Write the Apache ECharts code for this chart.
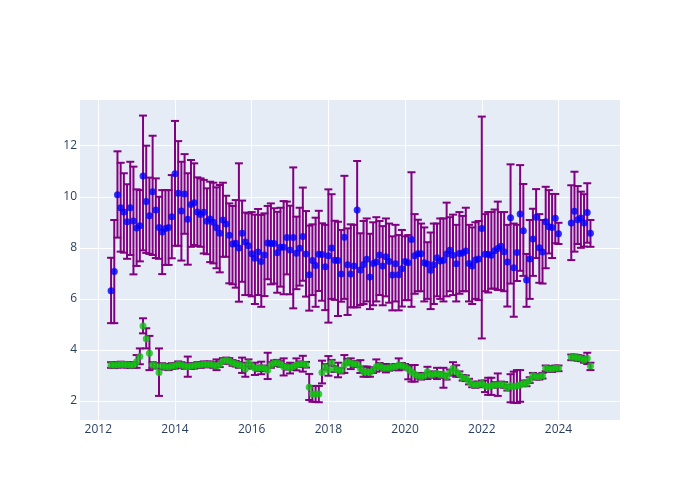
<!DOCTYPE html>
<html>
<head>
<meta charset="utf-8">
<script src="https://cdn.jsdelivr.net/npm/echarts@6/dist/echarts.min.js"></script>
<style>html,body{margin:0;padding:0;background:#fff}#c{width:700px;height:500px}</style>
</head>
<body>
<div id="c"></div>
<script>
// Monthly observation dates (YYYY-MM)
const dates = [
 '2012-05','2012-06','2012-07','2012-08','2012-09','2012-10','2012-11','2012-12',
 '2013-01','2013-02','2013-03','2013-04','2013-05','2013-06','2013-07','2013-08','2013-09','2013-10','2013-11','2013-12',
 '2014-01','2014-02','2014-03','2014-04','2014-05','2014-06','2014-07','2014-08','2014-09','2014-10','2014-11','2014-12',
 '2015-01','2015-02','2015-03','2015-04','2015-05','2015-06','2015-07','2015-08','2015-09','2015-10','2015-11','2015-12',
 '2016-01','2016-02','2016-03','2016-04','2016-05','2016-06','2016-07','2016-08','2016-09','2016-10','2016-11','2016-12',
 '2017-01','2017-02','2017-03','2017-04','2017-05','2017-06','2017-07','2017-08','2017-09','2017-10','2017-11','2017-12',
 '2018-01','2018-02','2018-03','2018-04','2018-05','2018-06','2018-07','2018-08','2018-09','2018-10','2018-11','2018-12',
 '2019-01','2019-02','2019-03','2019-04','2019-05','2019-06','2019-07','2019-08','2019-09','2019-10','2019-11','2019-12',
 '2020-01','2020-02','2020-03','2020-04','2020-05','2020-06','2020-07','2020-08','2020-09','2020-10','2020-11','2020-12',
 '2021-01','2021-02','2021-03','2021-04','2021-05','2021-06','2021-07','2021-08','2021-09','2021-10','2021-11','2021-12',
 '2022-01','2022-02','2022-03','2022-04','2022-05','2022-06','2022-07','2022-08','2022-09','2022-10','2022-11','2022-12',
 '2023-01','2023-02','2023-03','2023-04','2023-05','2023-06','2023-07','2023-08','2023-09','2023-10','2023-11','2023-12',
 '2024-01',
 '2024-05','2024-06','2024-07','2024-08','2024-09','2024-10','2024-11'
];

// Upper series (blue points)
const blueVal = [
 6.32,7.07,10.08,9.57,9.40,9.02,9.57,9.05,
 8.78,8.86,10.81,9.81,9.26,10.20,9.48,8.80,8.62,8.76,8.80,9.22,
 10.90,10.14,9.44,10.11,9.12,9.70,9.77,9.40,9.31,9.39,9.04,9.13,
 9.00,8.79,8.57,9.09,8.93,8.49,8.15,8.18,7.99,8.57,8.23,8.08,
 7.77,7.59,7.84,7.46,7.72,8.19,8.17,8.17,7.81,8.02,8.02,8.40,
 7.91,8.40,7.79,7.98,8.44,7.76,6.95,7.50,7.31,7.75,7.74,7.26,
 7.69,7.99,7.51,7.50,6.97,8.41,7.34,6.97,7.29,9.48,7.13,7.35,
 7.55,6.86,7.39,7.44,7.72,7.29,7.65,7.46,6.94,7.38,6.95,7.18,
 7.46,7.42,8.33,7.69,7.77,7.77,7.42,7.37,7.12,7.34,7.61,7.48,
 7.51,7.76,7.90,7.71,7.38,7.78,7.80,7.88,7.39,7.29,7.52,7.56,
 8.76,7.75,7.75,7.71,7.89,7.97,8.06,7.85,7.44,9.18,7.22,7.82,
 9.32,8.67,6.74,7.56,8.35,9.20,8.00,7.84,9.02,8.83,8.80,9.16,
 8.55,
 8.97,9.43,9.10,9.17,8.97,9.38,8.57
];
const blueHi = [
 7.61,9.09,11.78,11.33,10.92,10.49,11.37,11.18,
 10.29,10.26,13.18,12.00,10.75,12.39,10.72,10.00,10.26,10.26,10.26,10.85,
 12.97,12.18,11.37,11.67,10.92,11.44,11.31,10.76,10.72,10.66,10.33,10.59,
 10.55,10.37,10.46,10.55,10.04,9.74,9.64,9.87,11.31,9.85,9.38,9.35,
 9.40,9.30,9.52,9.29,9.35,9.64,9.74,9.55,9.41,9.57,9.83,9.81,
 9.65,11.15,9.22,9.57,10.36,9.44,8.87,8.92,9.18,9.45,8.96,8.90,
 10.29,10.10,9.06,9.02,8.70,10.82,8.76,8.92,8.90,11.40,8.57,9.05,
 9.15,8.55,9.00,9.20,9.05,8.85,9.15,8.95,8.45,8.90,8.50,8.70,
 8.45,8.50,10.96,9.32,9.10,8.95,8.80,8.22,8.60,8.95,8.95,9.15,
 9.15,9.77,9.20,9.30,8.90,9.40,9.25,9.57,8.90,8.80,9.00,9.05,
 13.14,9.32,9.40,9.40,9.50,9.81,9.40,9.40,8.90,11.27,8.95,8.90,
 11.24,10.50,7.76,9.09,9.53,10.30,9.32,9.09,10.39,10.26,10.11,10.11,
 8.98,
 10.45,10.98,10.42,10.20,10.10,10.53,9.09
];
const blueLo = [
 5.05,5.05,8.40,7.85,7.81,7.57,7.72,6.96,
 7.29,7.47,7.90,7.80,7.76,7.72,7.60,7.57,6.97,7.33,7.33,7.59,
 8.08,8.08,7.50,8.55,7.34,8.04,8.11,8.07,8.04,7.78,7.75,7.44,
 7.39,7.20,7.04,7.65,7.65,6.61,6.57,6.44,5.89,6.67,6.15,6.15,
 6.10,5.80,6.15,5.69,6.11,6.77,6.57,6.60,6.24,6.48,6.18,6.96,
 6.18,5.63,6.38,6.52,6.71,6.09,5.54,6.15,5.69,6.31,5.93,5.56,
 5.07,6.00,5.96,5.33,5.89,6.00,5.37,5.67,5.67,5.67,5.76,5.80,
 5.90,5.60,5.75,5.90,6.15,5.75,6.10,5.85,5.55,5.90,5.55,5.70,
 5.95,5.95,5.69,6.20,6.30,6.30,5.90,6.00,5.60,5.80,6.10,6.00,
 5.90,6.10,6.30,6.15,5.90,6.20,6.30,6.30,5.90,5.80,6.00,5.95,
 4.45,6.30,6.25,6.40,6.40,6.35,6.35,6.30,5.70,6.60,5.30,6.70,
 7.10,6.90,5.69,6.00,6.90,7.60,6.63,6.60,7.20,7.78,7.60,8.18,
 8.15,
 7.52,7.85,8.15,8.00,8.05,8.20,8.04
];

// Lower series (green points)
const greenVal = [
 3.41,3.40,3.42,3.43,3.43,3.42,3.40,3.41,
 3.54,3.74,4.94,4.44,3.87,3.41,3.38,3.12,3.37,3.34,3.32,3.37,
 3.38,3.44,3.41,3.37,3.34,3.37,3.38,3.41,3.41,3.44,3.43,3.44,
 3.41,3.37,3.44,3.57,3.59,3.57,3.49,3.46,3.41,3.38,3.25,3.49,
 3.38,3.28,3.28,3.30,3.28,3.20,3.41,3.48,3.50,3.45,3.34,3.34,
 3.29,3.35,3.41,3.44,3.45,3.42,2.54,2.27,2.27,2.27,3.12,3.34,
 3.21,3.50,3.25,3.21,3.19,3.41,3.54,3.48,3.45,3.44,3.28,3.15,
 3.15,3.12,3.21,3.34,3.38,3.30,3.28,3.30,3.32,3.34,3.41,3.38,
 3.34,3.25,3.15,3.05,2.99,2.95,2.99,3.15,3.02,3.05,3.08,3.02,
 3.05,2.95,3.12,3.28,3.15,3.05,2.91,2.89,2.76,2.65,2.63,2.65,
 2.69,2.60,2.56,2.60,2.63,2.63,2.65,2.63,2.52,2.60,2.56,2.60,
 2.63,2.69,2.69,2.82,2.99,2.95,2.95,2.99,3.28,3.25,3.25,3.28,
 3.28,
 3.71,3.71,3.69,3.67,3.61,3.67,3.37
];
const greenHi = [
 3.52,3.50,3.52,3.54,3.53,3.52,3.50,3.52,
 3.80,4.06,5.24,4.85,4.55,3.52,3.49,4.06,3.48,3.45,3.43,3.48,
 3.49,3.55,3.52,3.48,3.74,3.48,3.49,3.52,3.52,3.55,3.54,3.55,
 3.52,3.63,3.55,3.68,3.70,3.68,3.60,3.57,3.52,3.70,3.50,3.63,
 3.49,3.50,3.39,3.54,3.39,3.89,3.52,3.59,3.61,3.56,3.67,3.45,
 3.50,3.46,3.67,3.55,3.77,3.53,3.06,2.59,2.59,2.59,3.58,3.45,
 3.76,3.61,3.36,3.50,3.30,3.80,3.65,3.67,3.56,3.55,3.60,3.35,
 3.35,3.30,3.32,3.63,3.49,3.41,3.45,3.41,3.43,3.45,3.67,3.49,
 3.45,3.36,3.41,3.41,3.10,3.06,3.10,3.34,3.13,3.16,3.30,3.13,
 3.30,3.06,3.23,3.52,3.40,3.16,3.02,3.00,2.87,2.76,2.74,2.76,
 2.80,2.80,2.91,2.91,2.74,3.08,2.76,2.74,2.63,3.05,3.15,3.21,
 3.21,2.80,2.80,2.93,3.10,3.06,3.06,3.10,3.39,3.36,3.36,3.39,
 3.39,
 3.82,3.82,3.80,3.78,3.72,3.89,3.50
];
const greenLo = [
 3.30,3.29,3.31,3.32,3.32,3.31,3.29,3.30,
 3.30,3.44,4.65,4.06,3.21,3.30,3.27,2.20,3.26,3.23,3.21,3.26,
 3.27,3.33,3.30,3.26,2.95,3.26,3.27,3.30,3.30,3.33,3.32,3.33,
 3.30,3.21,3.33,3.46,3.48,3.46,3.38,3.35,3.30,3.10,2.95,3.35,
 3.27,3.02,3.17,3.05,3.17,2.86,3.30,3.37,3.39,3.34,3.00,3.23,
 3.08,3.24,3.20,3.33,3.15,3.31,2.04,1.97,1.96,1.95,2.69,3.23,
 2.99,3.39,3.14,2.93,3.08,3.10,3.43,3.25,3.34,3.33,3.10,2.95,
 2.95,2.95,3.10,3.15,3.27,3.19,3.12,3.19,3.21,3.23,3.20,3.27,
 3.23,2.85,2.76,2.76,2.88,2.84,2.88,2.86,2.91,2.94,2.86,2.91,
 2.52,2.84,3.01,3.00,2.95,2.94,2.80,2.78,2.65,2.54,2.52,2.54,
 2.58,2.35,2.24,2.24,2.52,2.20,2.54,2.52,2.41,1.95,1.93,1.92,
 1.97,2.58,2.58,2.71,2.88,2.84,2.84,2.88,3.17,3.14,3.14,3.17,
 3.17,
 3.60,3.60,3.58,3.56,3.50,3.45,3.21
];

// Axis tick labels
const xTicks = [2012, 2014, 2016, 2018, 2020, 2022, 2024];
const yTicks = [2, 4, 6, 8, 10, 12];

function toYear(s) {
  const p = s.split('-');
  return +p[0] + (+p[1] - 1) / 12;
}
const xs = dates.map(toYear);
const blueErr = xs.map((x, i) => [x, blueLo[i], blueHi[i]]);
const greenErr = xs.map((x, i) => [x, greenLo[i], greenHi[i]]);
const bluePts = xs.map((x, i) => [x, blueVal[i]]);
const greenPts = xs.map((x, i) => [x, greenVal[i]]);

function renderErr(params, api) {
  const x = api.value(0), lo = api.value(1), hi = api.value(2);
  const a = api.coord([x, hi]), b = api.coord([x, lo]);
  const w = 4;
  const style = { stroke: '#800080', lineWidth: 2, fill: null };
  return {
    type: 'group',
    children: [
      { type: 'line', shape: { x1: a[0], y1: a[1], x2: b[0], y2: b[1] }, style: style },
      { type: 'line', shape: { x1: a[0] - w, y1: a[1], x2: a[0] + w, y2: a[1] }, style: style },
      { type: 'line', shape: { x1: b[0] - w, y1: b[1], x2: b[0] + w, y2: b[1] }, style: style }
    ]
  };
}

const chart = echarts.init(document.getElementById('c'), null, { renderer: 'canvas' });
const labelFont = { fontFamily: 'Open Sans', fontSize: 12, color: '#2a3f5f' };
chart.setOption({
  animation: false,
  backgroundColor: '#ffffff',
  grid: { left: 80, right: 80, top: 100, bottom: 80, show: true, backgroundColor: '#E5ECF6', borderWidth: 0 },
  xAxis: {
    type: 'value', min: 2011.523, max: 2025.604,
    axisLine: { show: false },
    axisTick: { show: false, customValues: xTicks },
    axisLabel: Object.assign({ customValues: xTicks, margin: 4, formatter: v => String(v) }, labelFont),
    splitLine: { show: true, lineStyle: { color: '#ffffff', width: 1 } }
  },
  yAxis: {
    type: 'value', min: 1.256, max: 13.79,
    axisLine: { show: false },
    axisTick: { show: false, customValues: yTicks },
    axisLabel: Object.assign({ customValues: yTicks, margin: 3, formatter: v => String(v) }, labelFont),
    splitLine: { show: true, lineStyle: { color: '#ffffff', width: 1 } }
  },
  series: [
    { type: 'custom', name: 'blueErr', renderItem: renderErr, data: blueErr, encode: { x: 0, y: [1, 2] }, z: 2, silent: true },
    { type: 'custom', name: 'greenErr', renderItem: renderErr, data: greenErr, encode: { x: 0, y: [1, 2] }, z: 2, silent: true },
    { type: 'scatter', name: 'blue', data: bluePts, symbol: 'circle', symbolSize: 7, itemStyle: { color: '#0000ff' }, z: 3 },
    { type: 'scatter', name: 'green', data: greenPts, symbol: 'circle', symbolSize: 7, itemStyle: { color: '#10c010' }, z: 3 }
  ]
});
</script>
</body>
</html>
